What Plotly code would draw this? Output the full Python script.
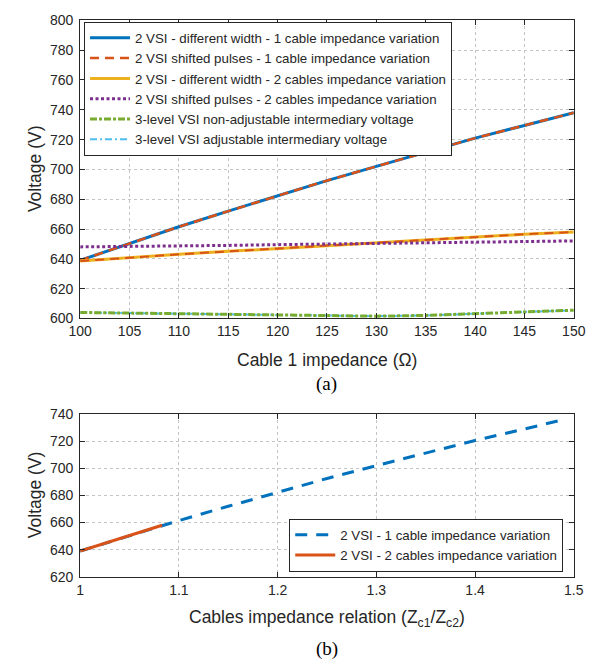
import plotly.graph_objects as go

# ---------------- data: panel (a) ----------------
cable1_impedance = [100, 105, 110, 115, 120, 125, 130, 135, 140, 145, 150]
vsi2_width_1cable = [639, 650.5, 661.5, 672, 682.5, 692.5, 702, 711.5, 721, 729.5, 738]
vsi2_shifted_1cable = [639, 650.5, 661.5, 672, 682.5, 692.5, 702, 711.5, 721, 729.5, 738]
vsi2_width_2cables = [638.5, 641, 643, 645, 647, 649, 651, 653, 655, 656.5, 658]
vsi2_shifted_2cables = [648, 648.2, 648.5, 649, 649.5, 650, 650.5, 651, 651.5, 651.8, 652]
vsi2_shifted_2cables_overlay = [638.5, 641, 643, 645, 647, 649, 651, 653, 655, 656.5, 658]
vsi3_nonadjustable = [604, 603.5, 603, 602.5, 602, 601.5, 601.5, 602, 603, 604, 605.5]
vsi3_adjustable = [604, 603.5, 603, 602.5, 602, 601.5, 601.5, 602, 603, 604, 605.5]

# ---------------- data: panel (b) ----------------
impedance_relation = [1.0, 1.05, 1.1, 1.15, 1.2, 1.25, 1.3, 1.35, 1.4, 1.45, 1.49]
vsi2_1cable_rel = [639, 650.5, 661.5, 672, 682.5, 692.5, 702, 711.5, 720.5, 729, 736]
impedance_relation_2 = [1.0, 1.02, 1.04, 1.06, 1.083]
vsi2_2cables_rel = [639, 643.5, 648, 653, 658]

names_a = [
    "2 VSI - different width - 1 cable impedance variation",
    "2 VSI shifted pulses - 1 cable impedance variation",
    "2 VSI - different width - 2 cables impedance variation",
    "2 VSI shifted pulses - 2 cables impedance variation",
    "3-level VSI non-adjustable intermediary voltage",
    "3-level VSI adjustable intermediary voltage",
]
names_b = [
    "2 VSI - 1 cable impedance variation",
    "2 VSI - 2 cables impedance variation",
]

x_ticks_a = [100, 105, 110, 115, 120, 125, 130, 135, 140, 145, 150]
y_ticks_a = [600, 620, 640, 660, 680, 700, 720, 740, 760, 780, 800]
x_ticks_b = [1.0, 1.1, 1.2, 1.3, 1.4, 1.5]
x_labels_b = ["1", "1.1", "1.2", "1.3", "1.4", "1.5"]
y_ticks_b = [620, 640, 660, 680, 700, 720, 740]

BLUE = "#0072BD"
ORANGE = "#D95319"
YELLOW = "#EDB120"
PURPLE = "#7E2F8E"
GREEN = "#77AC30"
LBLUE = "#4DBEEE"
TXT = "#262626"
FONT = "Liberation Sans"

W, H = 605, 671

fig = go.Figure()

fig.add_trace(go.Scatter(x=cable1_impedance, y=vsi2_width_1cable, mode="lines",
                         name=names_a[0], line=dict(color=BLUE, width=3),
                         legend="legend", legendrank=1))
fig.add_trace(go.Scatter(x=cable1_impedance, y=vsi2_shifted_1cable, mode="lines",
                         name=names_a[1], line=dict(color=ORANGE, width=2.5, dash="9px,6px"),
                         legend="legend", legendrank=2))
fig.add_trace(go.Scatter(x=cable1_impedance, y=vsi2_width_2cables, mode="lines",
                         name=names_a[2], line=dict(color=YELLOW, width=3),
                         legend="legend", legendrank=3))
fig.add_trace(go.Scatter(x=cable1_impedance, y=vsi2_shifted_2cables_overlay, mode="lines",
                         showlegend=False, line=dict(color=ORANGE, width=2, dash="9px,6px")))
fig.add_trace(go.Scatter(x=cable1_impedance, y=vsi2_shifted_2cables, mode="lines",
                         name=names_a[3], line=dict(color=PURPLE, width=3, dash="3px,2.5px"),
                         legend="legend", legendrank=4))
fig.add_trace(go.Scatter(x=cable1_impedance, y=vsi3_adjustable, mode="lines",
                         name=names_a[5], line=dict(color=LBLUE, width=2, dash="7px,3px,2px,3px"),
                         legend="legend", legendrank=6))
fig.add_trace(go.Scatter(x=cable1_impedance, y=vsi3_nonadjustable, mode="lines",
                         name=names_a[4], line=dict(color=GREEN, width=3, dash="7px,2px,3px,2px"),
                         legend="legend", legendrank=5))

fig.add_trace(go.Scatter(x=impedance_relation, y=vsi2_1cable_rel, mode="lines",
                         name=names_b[0], line=dict(color=BLUE, width=3, dash="12px,9px"),
                         xaxis="x2", yaxis="y2", legend="legend2", legendrank=1))
fig.add_trace(go.Scatter(x=impedance_relation_2, y=vsi2_2cables_rel, mode="lines",
                         name=names_b[1], line=dict(color=ORANGE, width=3),
                         xaxis="x2", yaxis="y2", legend="legend2", legendrank=2))

x0, x1 = 71 / W, 585 / W
axis_common = dict(
    showline=True, linecolor=TXT, linewidth=1, mirror="ticks",
    ticks="inside", ticklen=5, tickcolor=TXT, tickwidth=1,
    showgrid=True, gridcolor="#c4c4c4", griddash="dot", gridwidth=1,
    zeroline=False, tickfont=dict(family=FONT, size=14, color=TXT),
)

fig.update_layout(
    width=W, height=H, autosize=False,
    margin=dict(l=0, r=0, t=0, b=0),
    paper_bgcolor="white", plot_bgcolor="white",
    font=dict(family=FONT, color=TXT),
    xaxis=dict(domain=[x0, x1], range=[100, 150], tickvals=x_ticks_a,
               anchor="y", **axis_common),
    yaxis=dict(domain=[1 - 318 / H, 1 - 12.7 / H], range=[600, 800], tickvals=y_ticks_a,
               anchor="x", ticklabelstandoff=3, **axis_common),
    xaxis2=dict(domain=[x0, x1], range=[1, 1.5], tickvals=x_ticks_b, ticktext=x_labels_b,
                anchor="y2", **axis_common),
    yaxis2=dict(domain=[1 - 582.7 / H, 1 - 416 / H], range=[620, 740], tickvals=y_ticks_b,
                anchor="x2", ticklabelstandoff=3, **axis_common),
    legend=dict(x=75 / W, y=1 - 14 / H, xanchor="left", yanchor="top",
                bgcolor="white", bordercolor=TXT, borderwidth=1,
                font=dict(family=FONT, size=13.3, color=TXT),
                itemwidth=40, tracegroupgap=0),
    legend2=dict(x=574 / W, y=1 - 523 / H, xanchor="right", yanchor="top",
                 bgcolor="white", bordercolor=TXT, borderwidth=1,
                 font=dict(family=FONT, size=13.3, color=TXT),
                 itemwidth=40, tracegroupgap=0),
    showlegend=True,
)

ann = [
    dict(text="Voltage (V)", x=24 / W, y=1 - 165 / H, textangle=-90),
    dict(text="Cable 1 impedance (\u03a9)", x=(71 + 585) / 2 / W, y=1 - 361 / H),
    dict(text="Voltage (V)", x=24 / W, y=1 - 499 / H, textangle=-90),
    dict(text="Cables impedance relation (Z<sub>c1</sub>/Z<sub>c2</sub>)",
         x=(71 + 585) / 2 / W, y=1 - 625 / H),
]
for a in ann:
    fig.add_annotation(xref="paper", yref="paper", showarrow=False,
                       xanchor="center", yanchor="middle",
                       font=dict(family=FONT, size=17.5, color=TXT), **a)

for txt, yy in [("(a)", 385), ("(b)", 657)]:
    fig.add_annotation(xref="paper", yref="paper", showarrow=False, text=txt,
                       x=(71 + 585) / 2 / W, y=1 - yy / H, xanchor="center", yanchor="middle",
                       font=dict(family="Liberation Serif", size=19, color="black"))

fig.write_html(
    "out.html",
    config={"displayModeBar": False},
    post_script="document.body.style.margin='0';document.body.style.overflow='hidden';",
)
